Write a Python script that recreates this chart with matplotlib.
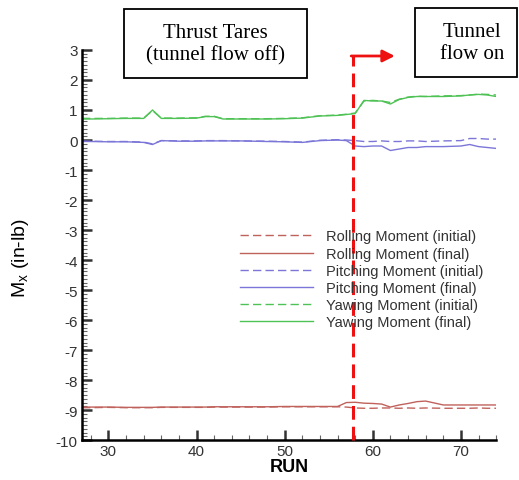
import matplotlib
matplotlib.use("Agg")
import matplotlib.pyplot as plt
from matplotlib.patches import Rectangle
from matplotlib.ticker import MultipleLocator

plt.rcParams["font.family"] = ["Liberation Sans", "DejaVu Sans"]
plt.rcParams["axes.unicode_minus"] = False
plt.rcParams["mathtext.fontset"] = "custom"
plt.rcParams["mathtext.rm"] = "Liberation Sans"

# RUN numbers
run = [27, 28, 30, 32, 34, 35, 36, 38, 40, 41, 42, 43, 45, 48, 50, 52, 54, 56, 57, 58,
       59, 60, 61, 62, 63, 64, 65, 66, 68, 70, 71, 72, 73, 74]

yaw_final = [0.70, 0.70, 0.71, 0.72, 0.72, 1.00, 0.72, 0.72, 0.73, 0.78, 0.78, 0.70, 0.70, 0.70, 0.71, 0.73, 0.80, 0.82, 0.85, 0.88,
             1.32, 1.30, 1.30, 1.20, 1.35, 1.42, 1.45, 1.45, 1.45, 1.47, 1.50, 1.52, 1.50, 1.45]
yaw_init = [0.72, 0.72, 0.72, 0.73, 0.73, 0.98, 0.73, 0.73, 0.74, 0.79, 0.79, 0.71, 0.71, 0.71, 0.72, 0.74, 0.81, 0.83, 0.86, 0.90,
            1.30, 1.32, 1.30, 1.25, 1.36, 1.43, 1.46, 1.45, 1.47, 1.48, 1.50, 1.53, 1.52, 1.50]

pitch_final = [-0.05, -0.05, -0.06, -0.06, -0.08, -0.15, -0.02, -0.04, -0.04, -0.03, -0.03, -0.03, -0.03, -0.05, -0.06, -0.08, -0.02, 0.00, -0.02, -0.20,
               -0.22, -0.20, -0.20, -0.35, -0.30, -0.25, -0.25, -0.22, -0.22, -0.20, -0.15, -0.22, -0.25, -0.28]
pitch_init = [-0.04, -0.04, -0.05, -0.05, -0.07, -0.13, -0.02, -0.03, -0.03, -0.02, -0.02, -0.02, -0.03, -0.04, -0.05, -0.07, -0.01, 0.01, 0.00, -0.02,
              -0.05, -0.05, -0.03, -0.05, -0.05, -0.03, -0.03, -0.05, -0.03, -0.02, 0.05, 0.05, 0.03, 0.03]

roll_final = [-8.90, -8.90, -8.90, -8.91, -8.91, -8.91, -8.90, -8.90, -8.90, -8.90, -8.89, -8.89, -8.89, -8.89, -8.88, -8.88, -8.88, -8.88, -8.75, -8.74,
              -8.77, -8.78, -8.80, -8.90, -8.83, -8.78, -8.72, -8.70, -8.83, -8.83, -8.83, -8.83, -8.83, -8.83]
roll_init = [-8.92, -8.92, -8.91, -8.92, -8.92, -8.92, -8.91, -8.91, -8.91, -8.91, -8.90, -8.90, -8.90, -8.90, -8.89, -8.89, -8.89, -8.89, -8.90, -8.93,
             -8.94, -8.94, -8.93, -8.93, -8.94, -8.93, -8.94, -8.93, -8.94, -8.94, -8.94, -8.93, -8.94, -8.94]

split_run = 57.7

roll_c = "#c0625c"
pitch_c = "#7b76d8"
yaw_c = "#4fc255"

fig = plt.figure(figsize=(5.19, 4.81), dpi=100)
ax = fig.add_axes([0.158, 0.083, 0.798, 0.811])

ax.plot(run, roll_init, "--", color=roll_c, lw=1.0, dashes=(6, 3), label="Rolling Moment (initial)")
ax.plot(run, roll_final, "-", color=roll_c, lw=1.0, label="Rolling Moment (final)")
ax.plot(run, pitch_init, "--", color=pitch_c, lw=1.0, dashes=(6, 3), label="Pitching Moment (initial)")
ax.plot(run, pitch_final, "-", color=pitch_c, lw=1.0, label="Pitching Moment (final)")
ax.plot(run, yaw_init, "--", color=yaw_c, lw=1.0, dashes=(6, 3), label="Yawing Moment (initial)")
ax.plot(run, yaw_final, "-", color=yaw_c, lw=1.0, label="Yawing Moment (final)")

ax.set_xlim(27, 74)
ax.set_ylim(-10, 3)
ax.spines["top"].set_visible(False)
ax.spines["right"].set_visible(False)
ax.spines["left"].set_linewidth(1.8)
ax.spines["bottom"].set_linewidth(1.8)
ax.xaxis.set_major_locator(MultipleLocator(10))
ax.xaxis.set_minor_locator(MultipleLocator(2))
ax.yaxis.set_major_locator(MultipleLocator(1))
ax.yaxis.set_minor_locator(MultipleLocator(0.125))
ax.tick_params(which="major", direction="in", length=7, width=1.8, labelsize=11, colors="#333333", pad=3)
ax.tick_params(which="minor", direction="in", length=3.5, width=0.8, colors="#666666")
ax.set_xlabel("RUN", fontsize=13, fontweight="bold", labelpad=0)
ax.set_ylabel("M$_\\mathregular{x}$ (in-lb)", fontsize=14)
ax.yaxis.set_label_coords(-0.122, 0.47)

leg = ax.legend(loc="upper left", bbox_to_anchor=(0.382, 0.54), frameon=False, fontsize=10.5,
                handlelength=5.0, handletextpad=0.85, labelspacing=0.22, borderpad=0, borderaxespad=0)
for t in leg.get_texts():
    t.set_color("#333333")

# flow-on divider and arrow
ax.plot([split_run, split_run], [-10, 2.8], "--", color="#ee1111", lw=2.2, dashes=(4.5, 2.3), clip_on=False, zorder=5)
ax.annotate("", xy=(62.5, 2.8), xytext=(split_run - 0.15, 2.8),
            arrowprops=dict(arrowstyle="-|>", color="#ee1111", lw=2, mutation_scale=18, shrinkA=0, shrinkB=0),
            annotation_clip=False)

# annotation boxes
fig.patches.append(Rectangle((0.239, 0.836), 0.353, 0.1435, transform=fig.transFigure,
                             fc="white", ec="black", lw=1.3, zorder=10))
fig.patches.append(Rectangle((0.800, 0.838), 0.1965, 0.1435, transform=fig.transFigure,
                             fc="white", ec="black", lw=1.3, zorder=10))
fig.text(0.415, 0.907, "Thrust Tares\n(tunnel flow off)", ha="center", va="center",
         fontsize=15, family="Liberation Serif", linespacing=1.2, zorder=11)
fig.text(0.909, 0.909, "Tunnel\nflow on", ha="center", va="center",
         fontsize=15, family="Liberation Serif", linespacing=1.2, zorder=11)

fig.savefig("out.png", dpi=100)
